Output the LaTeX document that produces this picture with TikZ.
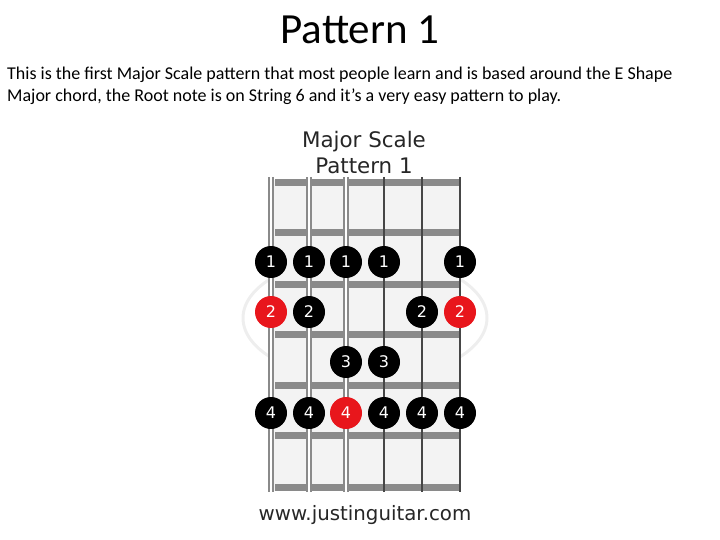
\documentclass[tikz,border=0pt]{standalone}
\usepackage{fontspec}
\setmainfont{Carlito}
\newfontfamily\diagfont{DejaVu Sans}
\usetikzlibrary{positioning}
\definecolor{rootred}{RGB}{232,22,28}
\definecolor{fretgray}{RGB}{138,138,138}
\definecolor{boardbg}{RGB}{243,243,243}
\definecolor{stringgray}{RGB}{70,70,70}
\definecolor{markgray}{RGB}{238,238,238}
\tikzset{
  pagetitle/.style={
    font=\fontsize{43bp}{46bp}\selectfont, inner sep=0pt
  },
  bodytext/.style={
    font=\fontsize{18bp}{22bp}\selectfont, align=left, inner sep=0pt
  },
  charttitle/.style={
    font=\diagfont\fontsize{21.4bp}{24bp}\selectfont\color{black!85}, inner sep=0pt
  },
  notedot/.style={
    circle, fill=black, minimum size=32bp, inner sep=0pt,
    font=\diagfont\fontsize{16bp}{16bp}\selectfont\color{white}
  },
  rootdot/.style={
    notedot, fill=rootred
  },
  fretbar/.style={
    fill=fretgray, draw=none
  },
  woundstring/.style={
    draw=fretgray, line width=6bp
  },
  woundcore/.style={
    draw=white, line width=2.6bp
  },
  plainstring/.style={
    draw=stringgray, line width=1.6bp
  },
}

\begin{document}
\begin{tikzpicture}[x=1bp, y=-1bp]
    \useasboundingbox (0,0) rectangle (720,540);

    %% Heading and description
    \node[pagetitle, anchor=base] (T) at (360,44) {Pattern 1};
    \node[bodytext, anchor=north west] (desc) at (7,67)
      {This is the first Major Scale pattern that most people learn and is based around the E Shape\\
       Major chord, the Root note is on String 6 and it{\char"0027}s a very easy pattern to play.};

    %% Chart titles
    \node[charttitle, anchor=base] (scale) at (364,148) {Major Scale};
    \node[charttitle, anchor=base] (patt) at (364,174) {Pattern 1};

    %% Faint watermark
    \draw[markgray, line width=3bp] (365,318) ellipse (122 and 62);

    %% Fretboard
    \fill[boardbg] (271,180) rectangle (460,491);
    \foreach \y in {179,229,281,331,382,432,484}
      \fill[fretbar] (275,\y) rectangle (460,\y+7);

    %% Strings (6 = low E on the left)
    \foreach \x in {271,309,346} {
      \draw[woundstring] (\x,177) -- (\x,492);
      \draw[woundcore] (\x,177) -- (\x,492);
    }
    \draw[plainstring] (384,177) -- (384,492);
    \draw[plainstring, line width=1.4bp] (422,177) -- (422,492);
    \draw[plainstring, line width=1.2bp] (460,177) -- (460,492);

    %% First finger
    \node[notedot] (a6) at (271,262) {1};
    \node[notedot] (a5) at (309,262) {1};
    \node[notedot] (a4) at (346,262) {1};
    \node[notedot] (a3) at (384,262) {1};
    \node[notedot] (a1) at (460,262) {1};

    %% Second finger
    \node[rootdot] (b6) at (271,312) {2};
    \node[notedot] (b5) at (309,312) {2};
    \node[notedot] (b2) at (422,312) {2};
    \node[rootdot] (b1) at (460,312) {2};

    %% Third finger
    \node[notedot] (c4) at (346,362) {3};
    \node[notedot] (c3) at (384,362) {3};

    %% Fourth finger
    \node[notedot] (d6) at (271,413) {4};
    \node[notedot] (d5) at (309,413) {4};
    \node[rootdot] (d4) at (346,413) {4};
    \node[notedot] (d3) at (384,413) {4};
    \node[notedot] (d2) at (422,413) {4};
    \node[notedot] (d1) at (460,413) {4};

    %% Source
    \node[charttitle, font=\diagfont\fontsize{19.8bp}{22bp}\selectfont\color{black!85}, anchor=base] (web)
      at (365,520) {www.justinguitar.com};
\end{tikzpicture}
\end{document}
